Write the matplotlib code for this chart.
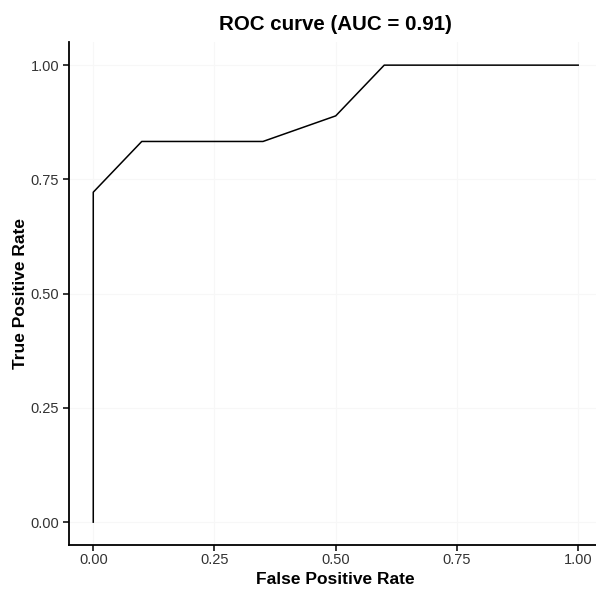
import matplotlib
matplotlib.use("Agg")
import matplotlib.pyplot as plt

# ROC curve points
fpr = [0.0, 0.0, 0.1, 0.35, 0.5, 0.6, 1.0]
tpr = [0.0, 0.722, 0.833, 0.833, 0.889, 1.0, 1.0]
ticks = [0.0, 0.25, 0.5, 0.75, 1.0]
tick_labels = ["0.00", "0.25", "0.50", "0.75", "1.00"]

plt.rcParams['font.family'] = ['Liberation Sans', 'DejaVu Sans']

fig = plt.figure(figsize=(5.96, 5.89), dpi=100)
ax = fig.add_axes([0.1158, 0.0747, 0.895, 0.8535])

ax.plot(fpr, tpr, color="black", linewidth=1.1)

ax.set_xlim(-0.05, 1.05)
ax.set_ylim(-0.05, 1.05)
ax.set_xticks(ticks)
ax.set_xticklabels(tick_labels)
ax.set_yticks(ticks)
ax.set_yticklabels(tick_labels)

# very faint grid like the reference
ax.grid(True, color="#f7f7f7", linewidth=0.8)
ax.set_axisbelow(True)

for s in ["top", "right"]:
    ax.spines[s].set_visible(False)
for s in ["left", "bottom"]:
    ax.spines[s].set_linewidth(1.3)
    ax.spines[s].set_color("black")

ax.tick_params(axis="x", length=4, width=1.1, colors="black",
               labelsize=10.5, labelcolor="#333333", pad=2)
ax.tick_params(axis="y", length=4, width=1.1, colors="black",
               labelsize=10.5, labelcolor="#333333", pad=3)

ax.set_xlabel("False Positive Rate", fontsize=12.5, fontweight="bold", labelpad=3)
ax.set_ylabel("True Positive Rate", fontsize=12.5, fontweight="bold", labelpad=2)
ax.set_title("ROC curve (AUC = 0.91)", fontsize=14.8, fontweight="bold", pad=9)

fig.savefig("out.png", dpi=100)
